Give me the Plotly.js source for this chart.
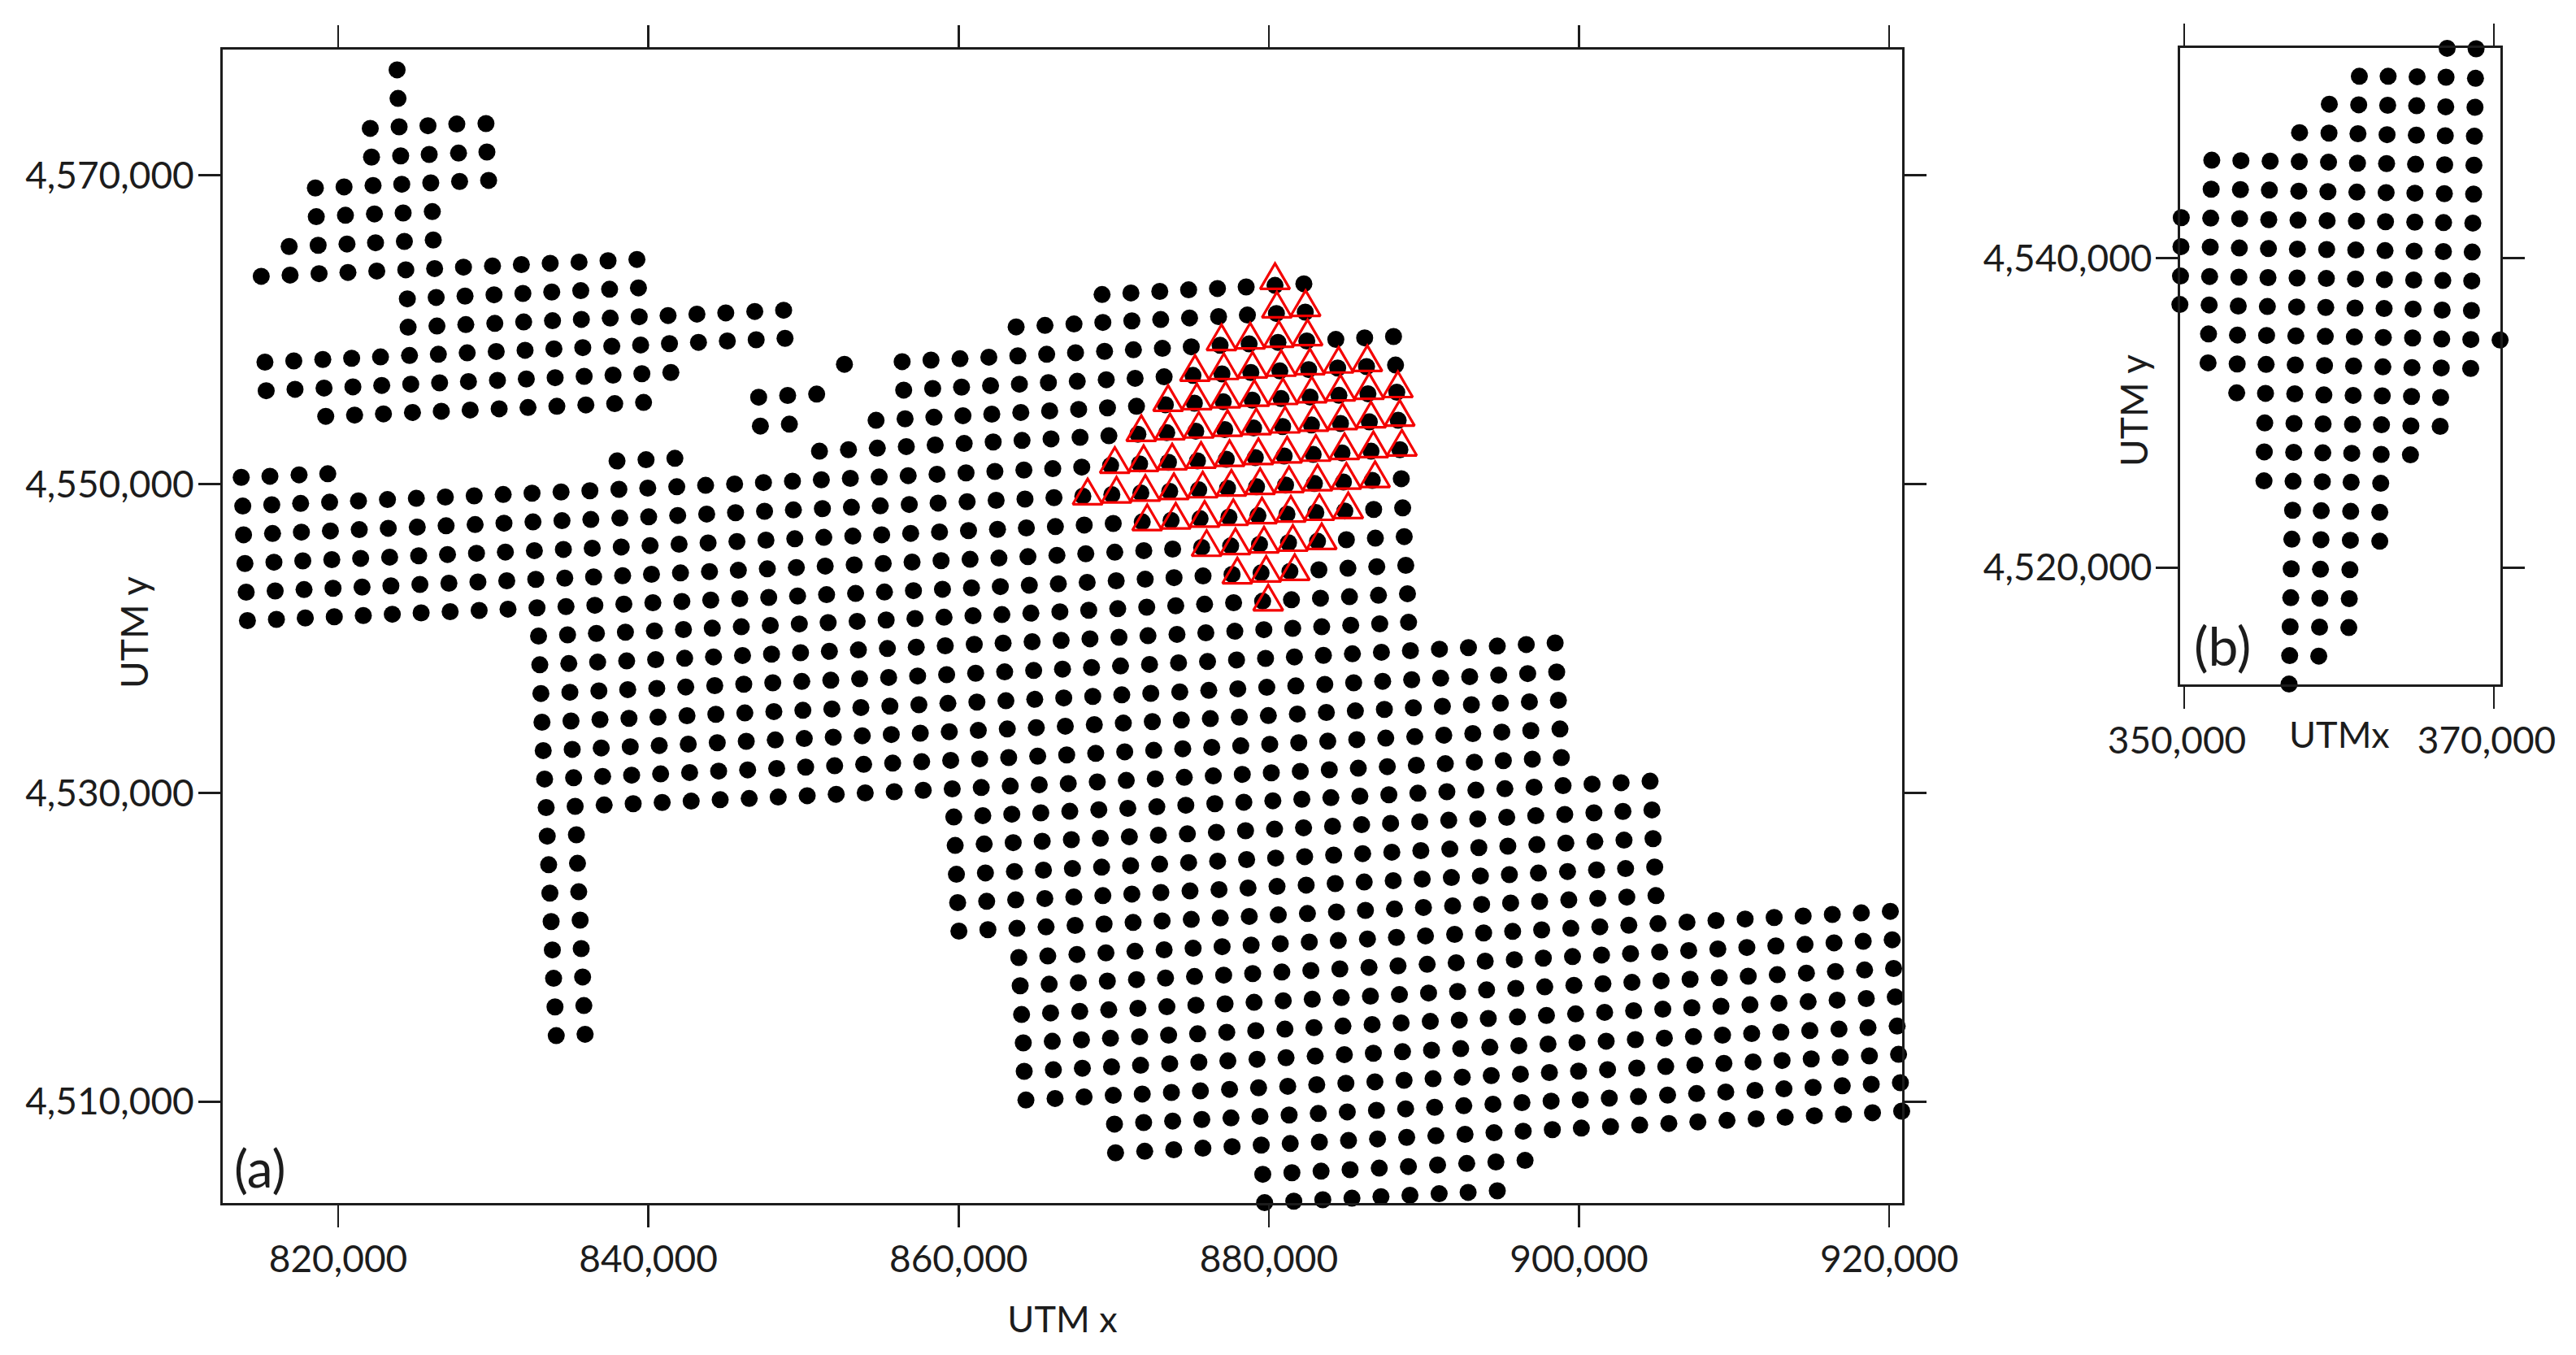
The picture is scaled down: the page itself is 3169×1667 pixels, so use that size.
<!DOCTYPE html>
<html>
<head>
<meta charset="utf-8">
<script src="https://cdn.plot.ly/plotly-3.0.1.min.js"></script>
<style>html,body{margin:0;padding:0;background:#fff}#chart{width:3169px;height:1667px}</style>
</head>
<body>
<div id="chart"></div>
<script>
const xTicksA=[820000,840000,860000,880000,900000,920000];
const yTicksA=[4510000,4530000,4550000,4570000];
const xTicksB=[350000,370000];
const yTicksB=[4520000,4540000];

// Panel (a): rows of sites
const xA=[823800,823860,822070,823930,825790,827650,829530,822150,824030,825870,827760,829590,818530,820380,822250,824100,825970,827830,829700,818590,820470,822340,824190,826070,816840,818710,820570,822410,824270,826130];
const yA=[4576830,4574980,4573040,4573140,4573210,4573320,4573350,4571180,4571260,4571350,4571440,4571510,4569180,4569250,4569340,4569420,4569510,4569600,4569670,4567320,4567410,4567500,4567560,4567650,4565390,4565470,4565550,4565630,4565720,4565810];
const xH=[815040,816900,818770,820630,822490,824360,826220,828080,829950,831810,833670,835530,837400,839260];
const yH=[4563460,4563540,4563630,4563710,4563800,4563880,4563960,4564050,4564130,4564220,4564300,4564380,4564470,4564550];
const xI=[824460,826320,828180,830050,831910,833770,835640,837500,839360];
const yI=[4562000,4562090,4562180,4562260,4562350,4562440,4562530,4562620,4562710];
const xJ=[824510,826370,828230,830100,831960,833820,835680,837540,839410,841270,843130,844990,846860,848720,869250,871110,872970,874830,876690,878540,880400,882260];
const yJ=[4560160,4560240,4560330,4560410,4560500,4560580,4560670,4560750,4560840,4560920,4561010,4561090,4561180,4561260,4562280,4562380,4562480,4562580,4562670,4562770,4562870,4562970];
const xK=[815280,817140,819010,820870,822730,824600,826460,828320,830190,832050,833910,835770,837640,839500,841360,843230,845090,846950,848810,863710,865570,867440,869300,871170,873030,874890,876760,878620,880490,882350];
const yK=[4557900,4557980,4558070,4558150,4558240,4558330,4558410,4558500,4558590,4558670,4558760,4558840,4558930,4559010,4559100,4559180,4559270,4559350,4559440,4560180,4560280,4560370,4560470,4560570,4560660,4560760,4560850,4560950,4561050,4561140];
const xL=[815360,817220,819090,820950,822810,824680,826540,828400,830270,832130,833990,835860,837720,839580,841450,852640,856360,858220,860090,861950,863820,865680,867540,869410,871270,873140,875000,876860,878730,880590,882450,884320,886180,888040];
const yL=[4556050,4556140,4556220,4556300,4556390,4556470,4556560,4556640,4556720,4556810,4556890,4556980,4557060,4557150,4557230,4557760,4557930,4558030,4558120,4558220,4558310,4558410,4558510,4558600,4558700,4558790,4558890,4558990,4559080,4559180,4559270,4559370,4559470,4559560];
const xM=[819200,821060,822920,824790,826650,828510,830380,832240,834100,835970,837830,839690,847110,848980,850850,856460,858330,860190,862060,863920,865790,867650,869520,871380,873250,875110,876980,878840,880710,882570,884440,886300,888170];
const yM=[4554390,4554470,4554550,4554640,4554720,4554800,4554880,4554960,4555040,4555130,4555210,4555290,4555630,4555740,4555830,4556090,4556190,4556280,4556380,4556470,4556570,4556660,4556760,4556850,4556950,4557040,4557140,4557230,4557330,4557420,4557520,4557610,4557710];
const xN=[847220,849090,854680,856550,858410,860280,862140,864010,865870,867740,869600,871470,873330,875200,877060,878930,880790,882660,884520,886390,888250];
const yN=[4553760,4553880,4554130,4554230,4554330,4554430,4554530,4554640,4554740,4554840,4554940,4555040,4555140,4555240,4555340,4555440,4555540,4555640,4555750,4555850,4555950];
const xO=[813750,815600,817480,819330,837980,839850,841710,851030,852900,854760,856630,858490,860360,862230,864090,865960,867830,869690,871560,873420,875290,877160,879020,880890,882750,884620,886480,888340];
const yO=[4550440,4550510,4550600,4550670,4551500,4551580,4551670,4552130,4552230,4552330,4552430,4552530,4552630,4552730,4552830,4552930,4553030,4553130,4553230,4553330,4553430,4553530,4553630,4553730,4553830,4553930,4554030,4554130];
const xP=[813850,815720,817580,819450,821310,823180,825040,826910,828770,830640,832500,834370,836230,838100,839960,841830,843690,845560,847420,849290,851150,853020,854880,856750,858610,860480,862340,864210,866070,867940,869800,871670,873530,875400,877260,879130,880990,882860,884720,886590,888450];
const yP=[4548580,4548660,4548750,4548830,4548910,4549000,4549080,4549160,4549240,4549330,4549410,4549490,4549570,4549660,4549740,4549830,4549920,4550010,4550100,4550190,4550280,4550370,4550460,4550550,4550640,4550730,4550820,4550910,4551000,4551100,4551210,4551310,4551410,4551510,4551610,4551720,4551820,4551920,4552020,4552130,4552230];
const xQ=[813900,815770,817630,819500,821360,823230,825100,826960,828830,830690,832560,834430,836290,838160,840020,841890,843760,845620,847490,849350,851220,853090,854950,856820,858680,860550,862420,864280,866150,868010,869880,871750,873610,875480,877340,879210,881080,882940,884810,886670,888540];
const yQ=[4546720,4546800,4546890,4546970,4547050,4547140,4547220,4547300,4547380,4547470,4547550,4547630,4547710,4547800,4547880,4547970,4548060,4548150,4548240,4548330,4548410,4548500,4548590,4548680,4548770,4548860,4548950,4549030,4549120,4549220,4549320,4549430,4549530,4549630,4549730,4549830,4549940,4550040,4550140,4550240,4550350];
const xR=[813990,815860,817720,819590,821450,823320,825190,827050,828920,830780,832650,834520,836380,838250,840110,841980,843850,845710,847580,849440,851310,853180,855040,856910,858770,860640,862510,864370,866240,868100,869970,871840,873700,875570,877430,879300,881170,883030,884900,886760,888630];
const yR=[4544860,4544940,4545030,4545110,4545190,4545270,4545360,4545440,4545520,4545600,4545690,4545770,4545850,4545930,4546020,4546110,4546190,4546280,4546370,4546460,4546550,4546630,4546720,4546810,4546900,4546990,4547070,4547160,4547250,4547350,4547450,4547550,4547650,4547760,4547860,4547960,4548060,4548160,4548260,4548360,4548460];
const xS=[814070,815940,817800,819670,821540,823400,825270,827140,829010,830870,832740,834610,836470,838340,840200,842070,843940,845800,847670,849540,851400,853270,855140,857000,858870,860740,862600,864470,866340,868200,870070,871940,873800,875670,877540,879400,881270,883140,885000,886870,888730];
const yS=[4543000,4543080,4543170,4543250,4543330,4543410,4543500,4543580,4543660,4543740,4543830,4543910,4543990,4544070,4544160,4544250,4544330,4544420,4544510,4544600,4544690,4544770,4544860,4544950,4545040,4545130,4545210,4545300,4545390,4545490,4545590,4545690,4545790,4545900,4546000,4546100,4546200,4546300,4546400,4546500,4546600];
const xT=[814150,816020,817880,819750,821620,823490,825350,827220,829090,830950,832820,834690,836550,838420,840290,842160,844020,845890,847760,849620,851490,853360,855220,857090,858960,860830,862690,864560,866430,868290,870160,872030,873890,875760,877630,879500,881360,883230,885100,886960,888830];
const yT=[4541160,4541240,4541330,4541410,4541490,4541570,4541660,4541740,4541820,4541900,4541990,4542070,4542150,4542230,4542320,4542400,4542490,4542580,4542660,4542750,4542840,4542920,4543010,4543100,4543190,4543280,4543360,4543450,4543540,4543640,4543740,4543840,4543940,4544050,4544150,4544250,4544350,4544450,4544550,4544650,4544740];
const xU=[832920,834790,836650,838520,840390,842260,844120,845990,847860,849730,851590,853460,855330,857190,859060,860930,862790,864660,866530,868390,870260,872130,874000,875860,877730,879600,881460,883330,885200,887070,888940];
const yU=[4540160,4540240,4540330,4540410,4540490,4540580,4540670,4540760,4540850,4540940,4541030,4541110,4541200,4541290,4541380,4541470,4541550,4541640,4541730,4541830,4541930,4542030,4542120,4542220,4542320,4542420,4542510,4542610,4542710,4542800,4542900];
const xV=[833000,834870,836730,838600,840470,842340,844200,846070,847940,849810,851670,853540,855410,857270,859140,861010,862870,864740,866610,868470,870340,872210,874080,875940,877810,879680,881540,883410,885280,887150,889010];
const yV=[4538300,4538380,4538470,4538550,4538630,4538720,4538810,4538900,4538990,4539080,4539170,4539260,4539350,4539440,4539530,4539620,4539700,4539790,4539880,4539980,4540080,4540180,4540270,4540370,4540470,4540570,4540660,4540760,4540860,4540950,4541050];
const xW=[833070,834940,836810,838670,840540,842410,844280,846150,848020,849890,851760,853620,855490,857360,859230,861100,862970,864840,866700,868570,870440,872310,874180,876050,877920,879790,881650,883520,885390,887260,889130,891000,892870,894730,896600,898460];
const yW=[4536440,4536520,4536610,4536690,4536770,4536860,4536950,4537040,4537130,4537220,4537300,4537390,4537480,4537570,4537660,4537750,4537840,4537930,4538020,4538120,4538220,4538320,4538420,4538510,4538610,4538710,4538810,4538910,4539010,4539110,4539210,4539310,4539410,4539510,4539610,4539710];
const xX=[833140,835010,836880,838750,840620,842490,844350,846220,848090,849960,851830,853700,855570,857440,859310,861180,863050,864910,866780,868650,870520,872390,874260,876130,878000,879870,881740,883610,885470,887340,889210,891080,892950,894820,896690,898560];
const yX=[4534580,4534660,4534750,4534830,4534910,4535000,4535090,4535180,4535270,4535350,4535440,4535530,4535620,4535710,4535800,4535880,4535970,4536060,4536150,4536250,4536350,4536450,4536540,4536640,4536740,4536840,4536930,4537030,4537130,4537230,4537330,4537430,4537530,4537630,4537730,4537830];
const xY=[833220,835090,836960,838830,840700,842570,844440,846310,848180,850050,851920,853790,855660,857530,859400,861270,863140,865010,866880,868750,870620,872490,874360,876230,878100,879970,881840,883710,885580,887450,889320,891190,893060,894930,896800,898670];
const yY=[4532740,4532820,4532910,4532990,4533070,4533160,4533250,4533340,4533430,4533520,4533610,4533700,4533780,4533870,4533960,4534050,4534140,4534230,4534320,4534420,4534520,4534620,4534720,4534810,4534910,4535010,4535110,4535210,4535310,4535410,4535510,4535610,4535710,4535810,4535900,4536000];
const xZ=[833310,835180,837050,838920,840790,842660,844530,846400,848270,850140,852010,853880,855750,857620,859490,861360,863230,865100,866970,868840,870710,872580,874450,876320,878190,880060,881930,883800,885670,887540,889410,891280,893150,895020,896890,898770];
const yZ=[4530900,4530980,4531070,4531150,4531230,4531320,4531410,4531490,4531580,4531670,4531760,4531850,4531930,4532020,4532110,4532200,4532290,4532380,4532460,4532560,4532660,4532760,4532860,4532950,4533050,4533150,4533250,4533350,4533450,4533550,4533640,4533740,4533840,4533940,4534040,4534140];
const xAA=[833410,835280,837150,839020,840890,842760,844630,846500,848370,850240,852110,853980,855850,857720,859590,861460,863330,865200,867070,868940,870810,872680,874550,876420,878290,880160,882030,883900,885770,887640,889510,891380,893250,895120,896990,898860];
const yAA=[4529050,4529130,4529220,4529300,4529380,4529470,4529560,4529640,4529730,4529820,4529910,4530000,4530080,4530170,4530260,4530350,4530440,4530530,4530610,4530710,4530810,4530910,4531010,4531100,4531200,4531300,4531400,4531500,4531600,4531700,4531790,4531890,4531990,4532090,4532190,4532290];
const xStub=[833480,835360,833570,835430,833650,835510,833730,835600,833810,835670,833890,835760,833980,835840,834060,835920];
const yStub=[4527200,4527290,4525350,4525440,4523510,4523600,4521670,4521760,4519830,4519920,4517990,4518080,4516140,4516230,4514280,4514370];
const xAB=[859690,861560,863430,865300,867170,869040,870910,872780,874650,876520,878390,880260,882130,884000,885870,887740,889610,891480,893350,895220,897100,898970,900840,902710,904580];
const yAB=[4528440,4528530,4528620,4528710,4528810,4528910,4529000,4529100,4529200,4529300,4529400,4529490,4529590,4529690,4529790,4529880,4529980,4530080,4530180,4530270,4530370,4530470,4530570,4530660,4530760];
const xAC=[859780,861650,863520,865390,867270,869140,871010,872880,874750,876620,878500,880370,882240,884110,885980,887850,889730,891600,893470,895340,897210,899080,900960,902830,904700];
const yAC=[4526600,4526690,4526780,4526870,4526970,4527060,4527160,4527260,4527350,4527450,4527550,4527650,4527740,4527840,4527940,4528030,4528130,4528230,4528320,4528420,4528520,4528610,4528710,4528800,4528900];
const xAD=[859860,861730,863600,865470,867340,869220,871090,872960,874830,876700,878570,880440,882310,884180,886050,887930,889800,891670,893540,895410,897280,899150,901020,902900,904770];
const yAD=[4524730,4524820,4524910,4525000,4525100,4525190,4525290,4525390,4525490,4525580,4525680,4525780,4525870,4525970,4526070,4526160,4526260,4526360,4526460,4526550,4526650,4526750,4526850,4526940,4527040];
const xAE=[859940,861810,863680,865560,867430,869300,871170,873040,874920,876790,878660,880530,882410,884280,886150,888020,889890,891770,893640,895510,897380,899260,901130,903000,904880];
const yAE=[4522890,4522980,4523070,4523160,4523260,4523350,4523450,4523550,4523650,4523740,4523840,4523940,4524030,4524130,4524230,4524320,4524420,4524520,4524620,4524710,4524810,4524910,4525010,4525100,4525200];
const xAF=[860020,861890,863760,865640,867510,869380,871250,873120,875000,876870,878740,880610,882490,884360,886230,888100,889970,891850,893720,895590,897460,899340,901210,903080,904960];
const yAF=[4521050,4521140,4521230,4521320,4521420,4521510,4521610,4521710,4521810,4521900,4522000,4522100,4522190,4522290,4522390,4522480,4522580,4522680,4522780,4522870,4522970,4523070,4523170,4523250,4523350];
const xAG=[863880,865750,867630,869500,871370,873250,875120,876990,878860,880740,882610,884480,886360,888230,890100,891980,893850,895720,897590,899470,901340,903210,905090,906960,908830,910710,912580,914450,916330,918200,920070];
const yAG=[4519340,4519440,4519540,4519640,4519740,4519840,4519940,4520040,4520140,4520240,4520340,4520440,4520540,4520640,4520740,4520840,4520930,4521030,4521130,4521230,4521330,4521430,4521530,4521630,4521730,4521830,4521930,4522030,4522130,4522230,4522330];
const xAH=[863970,865840,867720,869590,871470,873340,875210,877090,878960,880840,882710,884580,886460,888330,890210,892080,893950,895830,897700,899580,901450,903320,905200,907070,908950,910820,912690,914570,916440,918320,920190];
const yAH=[4517510,4517610,4517710,4517810,4517910,4518010,4518110,4518200,4518300,4518400,4518500,4518600,4518700,4518800,4518900,4519000,4519100,4519200,4519300,4519400,4519500,4519590,4519690,4519790,4519890,4519990,4520090,4520190,4520290,4520390,4520490];
const xAI=[864060,865930,867810,869680,871560,873430,875300,877180,879050,880930,882800,884670,886550,888420,890300,892170,894040,895920,897790,899670,901540,903410,905290,907160,909040,910910,912780,914660,916530,918410,920280];
const yAI=[4515650,4515750,4515850,4515950,4516050,4516150,4516250,4516340,4516440,4516540,4516640,4516740,4516840,4516940,4517040,4517140,4517240,4517340,4517440,4517540,4517640,4517730,4517830,4517930,4518030,4518130,4518230,4518330,4518430,4518530,4518630];
const xAJ=[864170,866040,867920,869790,871670,873540,875410,877290,879160,881040,882910,884780,886660,888530,890410,892280,894150,896030,897900,899780,901650,903520,905400,907270,909150,911020,912890,914770,916640,918520,920390];
const yAJ=[4513810,4513910,4514010,4514110,4514210,4514310,4514400,4514500,4514600,4514700,4514800,4514900,4515000,4515100,4515200,4515290,4515390,4515490,4515590,4515690,4515790,4515890,4515990,4516090,4516180,4516280,4516380,4516480,4516580,4516680,4516780];
const xAK=[864230,866110,867980,869860,871730,873610,875490,877360,879240,881110,882990,884870,886740,888620,890490,892370,894250,896120,898000,899870,901750,903630,905500,907380,909250,911130,913010,914880,916760,918630,920510];
const yAK=[4511970,4512070,4512170,4512260,4512360,4512460,4512560,4512650,4512750,4512850,4512950,4513050,4513140,4513240,4513340,4513440,4513530,4513630,4513730,4513830,4513920,4514020,4514120,4514220,4514310,4514410,4514510,4514610,4514700,4514800,4514900];
const xAL=[864340,866220,868090,869970,871840,873720,875590,877470,879340,881220,883090,884970,886840,888720,890590,892470,894340,896220,898090,899970,901840,903720,905590,907470,909340,911220,913090,914970,916840,918720,920600];
const yAL=[4510110,4510210,4510310,4510410,4510500,4510600,4510700,4510800,4510900,4511000,4511100,4511190,4511290,4511390,4511490,4511590,4511690,4511790,4511890,4511980,4512080,4512180,4512280,4512380,4512480,4512580,4512670,4512770,4512870,4512970,4513070];
const xAM=[870050,871930,873800,875680,877560,879430,881310,883190,885060,886940,888820,890690,892570,894450,896320,898200,900080,901950,903830,905710,907580,909460,911340,913210,915090,916970,918840,920720];
const yAM=[4508550,4508650,4508750,4508850,4508950,4509050,4509140,4509240,4509340,4509440,4509540,4509640,4509740,4509840,4509940,4510040,4510130,4510230,4510330,4510430,4510530,4510630,4510730,4510830,4510930,4511030,4511130,4511230];
const xAN=[870120,872000,873870,875750,877630,879510,881380,883260,885140,887010,888890,890770,892650,894520,896400,898280,900150,902030,903910,905790,907660,909540,911420,913290,915170,917050,918920,920800];
const yAN=[4506690,4506790,4506890,4506990,4507090,4507190,4507290,4507390,4507490,4507590,4507690,4507790,4507890,4507990,4508090,4508190,4508290,4508390,4508490,4508590,4508690,4508790,4508890,4508990,4509090,4509190,4509290,4509390];
const xAO=[879610,881490,883370,885240,887120,889000,890880,892760,894640,896520];
const yAO=[4505300,4505400,4505500,4505600,4505700,4505800,4505900,4506000,4506100,4506200];
const xAP=[879730,881610,883480,885360,887230,889100,890980,892850,894730];
const yAP=[4503460,4503560,4503650,4503750,4503850,4503940,4504040,4504130,4504230];

// Panel (a): apex of each red triangle
const xTri=[880400,880520,882370,876950,878800,880650,882500,875240,877100,878950,880800,882650,884500,886350,873510,875360,877210,879070,880910,882770,884620,886470,888320,871780,873630,875490,877340,879190,881050,882890,884750,886590,888440,870070,871930,873770,875630,877470,879330,881180,883030,884880,886740,888580,868320,870180,872040,873880,875740,877590,879440,881300,883140,885000,886850,872160,874000,875860,877710,879560,881420,883260,885120,875990,877850,879690,881550,883410,877970,879830,881670,879960];
const yTri=[4564290,4562440,4562540,4560330,4560430,4560540,4560640,4558340,4558450,4558550,4558660,4558760,4558870,4558970,4556390,4556500,4556610,4556720,4556830,4556940,4557060,4557170,4557280,4554440,4554550,4554660,4554770,4554880,4554990,4555100,4555210,4555320,4555430,4552380,4552490,4552600,4552710,4552820,4552940,4553050,4553160,4553270,4553390,4553500,4550340,4550450,4550570,4550680,4550790,4550900,4551010,4551130,4551240,4551350,4551460,4548660,4548770,4548890,4549000,4549110,4549220,4549330,4549440,4547000,4547110,4547220,4547330,4547440,4545220,4545330,4545440,4543470];

// Panel (b)
const xb1=[366980,368850,361310,363170,365040,366910,368810,359370,361270,363140,365010,366890,368780,357450,359350,361220,363100,364990,366860,368740];
const yb1=[4553550,4553520,4551740,4551740,4551710,4551680,4551610,4549940,4549900,4549870,4549840,4549770,4549740,4548100,4548070,4548030,4547970,4547940,4547900,4547870];
const xb2=[351780,353660,355550,357430,359320,361190,363070,364940,366820,368710,351740,353630,355500,357400,359280,361150,363040,364900,366800,368690];
const yb2=[4546320,4546290,4546260,4546230,4546190,4546130,4546100,4546060,4546030,4546000,4544450,4544420,4544390,4544320,4544290,4544260,4544230,4544190,4544160,4544130];
const xb3=[349810,351710,353580,355460,357350,359230,361120,363000,364890,366750,368640,349790,351680,353560,355440,357310,359200,361080,362970,364850,366740,368600];
const yb3=[4542610,4542580,4542550,4542480,4542450,4542420,4542390,4542350,4542320,4542290,4542260,4540740,4540710,4540650,4540610,4540580,4540550,4540520,4540480,4540450,4540420,4540390];
const xb4=[349760,351640,353530,355410,357290,359180,361060,362930,364820,366700,368570,349720,351610,353490,355370,357260,359140,361030,362910,364780,366660,368550];
const yb4=[4538840,4538810,4538770,4538740,4538710,4538680,4538650,4538610,4538580,4538550,4538520,4537000,4536970,4536900,4536870,4536840,4536810,4536770,4536740,4536710,4536640,4536610];
const xb5=[351570,353440,355320,357210,359110,360990,362860,364750,366630,368510,370400,351540,353420,355290,357170,359060,360940,362830,364710,366600,368500];
const yb5=[4535100,4535030,4535000,4534970,4534940,4534900,4534870,4534840,4534770,4534740,4534710,4533230,4533160,4533130,4533100,4533060,4533030,4532970,4532930,4532900,4532870];
const xb6=[353390,355250,357140,359020,360910,362790,364680,366560,355200,357090,358970,360870,362740,364640,366530,355170,357070,358950,360820,362720,364610];
const yb6=[4531290,4531260,4531230,4531160,4531130,4531100,4531060,4531000,4529350,4529320,4529290,4529260,4529230,4529160,4529130,4527480,4527450,4527420,4527390,4527320,4527290];
const xb7=[355150,357030,358920,360780,362690,357000,358850,360750,362630,356950,358830,360730,362630,356910,358800,360700,356880,358760,360660,356840,358740,360630,356810,358690,356770];
const yb7=[4525610,4525580,4525550,4525520,4525450,4523710,4523680,4523640,4523580,4521840,4521810,4521770,4521710,4519930,4519900,4519870,4518060,4518030,4518000,4516190,4516160,4516130,4514320,4514290,4512480];

const W=3169,H=1667;
const allX=[xA,xH,xI,xJ,xK,xL,xM,xN,xO,xP,xQ,xR,xS,xT,xU,xV,xW,xX,xY,xZ,xAA,xStub,xAB,xAC,xAD,xAE,xAF,xAG,xAH,xAI,xAJ,xAK,xAL,xAM,xAN,xAO,xAP].flat();
const allY=[yA,yH,yI,yJ,yK,yL,yM,yN,yO,yP,yQ,yR,yS,yT,yU,yV,yW,yX,yY,yZ,yAA,yStub,yAB,yAC,yAD,yAE,yAF,yAG,yAH,yAI,yAJ,yAK,yAL,yAM,yAN,yAO,yAP].flat();
const bX=[xb1,xb2,xb3,xb4,xb5,xb6,xb7].flat();
const bY=[yb1,yb2,yb3,yb4,yb5,yb6,yb7].flat();

// triangle outline from its apex (half width and height in axis units)
const triHalf=954,triHeight=1642;
const triPathX=[],triPathY=[];
xTri.forEach((x,i)=>{const y=yTri[i];
  triPathX.push(x,x+triHalf,x-triHalf,x,x+triHalf,null);
  triPathY.push(y,y-triHeight,y-triHeight,y,y-triHeight,null);});

const FONT='Lato, "Open Sans", sans-serif';
const INK='#1c1c1c';
function axisStyle(vals){return {tickmode:'array',tickvals:vals,ticktext:vals.map(v=>v.toLocaleString('en-US')),
  ticks:'outside',ticklen:27,tickwidth:2.5,tickcolor:INK,showline:true,linewidth:3,linecolor:INK,mirror:'ticks',
  showgrid:false,zeroline:false,tickfont:{family:FONT,size:46,color:INK}};}
const px=v=>v/W, py=v=>1-v/H;
const ann=(t,x,y,size,rot)=>({text:t,xref:'paper',yref:'paper',x:px(x),y:py(y),xanchor:'center',yanchor:'middle',showarrow:false,textangle:rot||0,font:{family:FONT,size:size,color:INK}});

const data=[
 {type:'scatter',mode:'markers',x:allX,y:allY,xaxis:'x',yaxis:'y',cliponaxis:false,marker:{color:'#000',size:21,line:{width:0}},hoverinfo:'skip',name:'sites'},
 {type:'scatter',mode:'lines',x:triPathX,y:triPathY,xaxis:'x',yaxis:'y',cliponaxis:false,connectgaps:false,line:{color:'#f40000',width:3.2},hoverinfo:'skip',name:'marked sites'},
 {type:'scatter',mode:'markers',x:bX,y:bY,xaxis:'x2',yaxis:'y2',cliponaxis:false,marker:{color:'#000',size:21,line:{width:0}},hoverinfo:'skip',name:'sites (b)'}
];
const layout={
 width:W,height:H,margin:{l:0,r:0,t:0,b:0},showlegend:false,paper_bgcolor:'#fff',plot_bgcolor:'#fff',
 xaxis:Object.assign(axisStyle(xTicksA),{domain:[px(274),px(2340)],range:[812558,920830],anchor:'y',
   title:{text:'UTM x',font:{family:FONT,size:45,color:INK},standoff:34}}),
 yaxis:Object.assign(axisStyle(yTicksA),{domain:[py(1480),py(60.7)],range:[4503440,4578158],anchor:'x',tickangle:0,ticklabelstandoff:-4}),
 xaxis2:Object.assign(axisStyle(xTicksB),{domain:[px(2681.7),px(3076)],range:[349720,370420],anchor:'y2',ticklabelshift:-9}),
 yaxis2:Object.assign(axisStyle(yTicksB),{domain:[py(842),py(59.4)],range:[4512460,4553550],anchor:'x2',tickangle:0,ticklabelstandoff:-5}),
 annotations:[
  ann('UTM y',164,778,46,-90),
  ann('UTM y',2625,505,46,-90),
  ann('UTMx',2878,903,45),
  ann('(a)',320,1436,64),
  ann('(b)',2734,794,66)
 ]
};
Plotly.newPlot('chart',data,layout,{displayModeBar:false,staticPlot:true});
</script>
</body>
</html>
